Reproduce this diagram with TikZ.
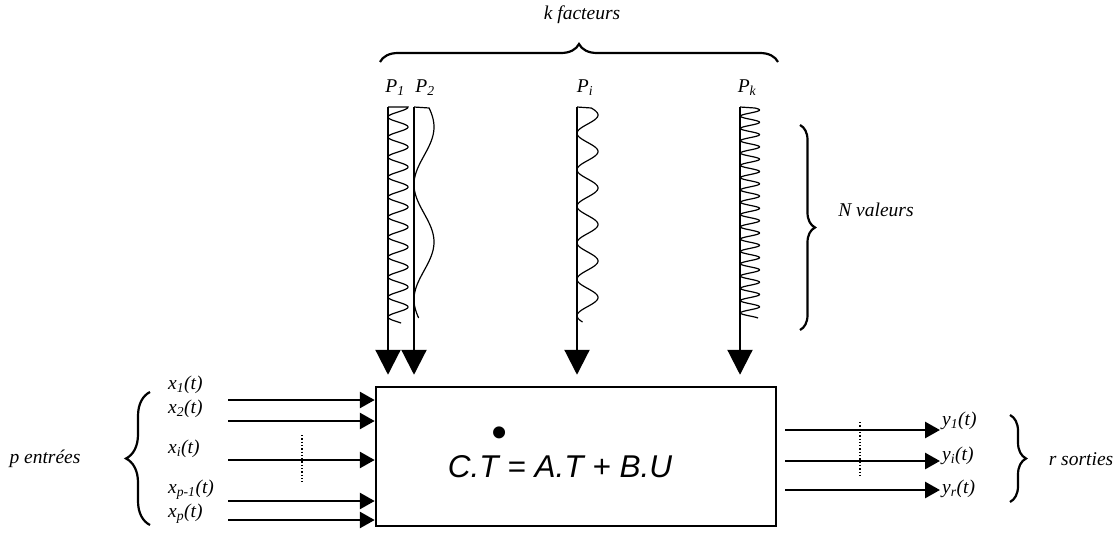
\documentclass[tikz,border=0pt]{standalone}
\usepackage{fontspec}
\setmainfont{Liberation Serif}
\newfontfamily\eqfont{Liberation Sans}
\usepackage{tikz}
\usetikzlibrary{positioning}
\usetikzlibrary{arrows.meta}
\usetikzlibrary{decorations.pathreplacing}

\newcommand\dotT{\rlap{\hspace{0.37em}\raisebox{0.93em}{\scalebox{1.4}{\textbullet}}}T}

\tikzset{
	lbl/.style={font=\fontsize{19.5}{21}\selectfont\itshape, inner sep=2pt},
	inarrow/.style={line width=2.8pt, -{Triangle[length=15pt,width=16pt]}},
	parrow/.style={line width=2.2pt, -{Triangle[length=25pt,width=25pt]}, shorten >=11pt},
	wave/.style={line width=1.2pt},
	bracestyle/.style={decorate, decoration={brace,amplitude=#1}, line width=2.2pt},
}

\begin{document}
\begin{tikzpicture}[x=1pt,y=-1pt]
		\useasboundingbox (0,0) rectangle (1116,533);
		
		% the system
		\node[draw, line width=2.5pt, minimum width=400pt, minimum height=139pt] (sys) at (576,456.5) {};
		\node[anchor=base, font=\fontsize{31.5}{33}\selectfont\eqfont\itshape] (eq) at (560,477) {C.\dotT\ = A.T + B.U};
		
		% factors
		\node[lbl] (kf) at (582,15) {k facteurs};
		\draw[bracestyle=18pt] (380,62) -- (778,62);
		
		\node[lbl] (p1) at (395,88) {P\textsubscript{1}};
		\node[lbl] (p2) at (425,88) {P\textsubscript{2}};
		\node[lbl] (pi) at (585,88) {P\textsubscript{i}};
		\node[lbl] (pk) at (747,88) {P\textsubscript{k}};
		
		\coordinate (p1top) at (388,107);
		\coordinate (p2top) at (414,107);
		\coordinate (pitop) at (577,107);
		\coordinate (pktop) at (740,107);
		
		\draw[parrow] (p1top) -- (p1top |- sys.north);
		\draw[parrow] (p2top) -- (p2top |- sys.north);
		\draw[parrow] (pitop) -- (pitop |- sys.north);
		\draw[parrow] (pktop) -- (pktop |- sys.north);
		
		% periods 20, 115, 36.5 and 12.3
		\draw[wave] (p1top) -- plot[domain=107:323,samples=300] ({398+10*cos(18*(\x-107))},\x);
		\draw[wave] (p2top) -- plot[domain=108:318,samples=150] ({424+10*cos(3.13*(\x-127))},\x);
		\draw[wave] (pitop) -- plot[domain=108:322,samples=300] ({587.5+10.5*cos(9.863*(\x-115))},\x);
		\draw[wave] (pktop) -- plot[domain=108:318,samples=500] ({750+9.5*cos(29.27*(\x-110))},\x);
		
		\draw[bracestyle=15pt] (800,125) -- (800,330);
		\node[lbl] (nval) at (876,210) {N valeurs};
		
		% inputs
		\node[lbl] (pin) at (45,459) {p entrées};
		\draw[bracestyle=24pt] (150,525) -- (150,392);
		
		\node[lbl,anchor=west] (x1) at (166,385) {x\textsubscript{1}(t)};
		\node[lbl,anchor=west] (x2) at (166,409) {x\textsubscript{2}(t)};
		\node[lbl,anchor=west] (xi) at (166,449) {x\textsubscript{i}(t)};
		\node[lbl,anchor=west] (xp1) at (166,490) {x\textsubscript{p-1}(t)};
		\node[lbl,anchor=west] (xp) at (166,514) {x\textsubscript{p}(t)};
		
		\coordinate (x1s) at (228,400);
		\coordinate (x2s) at (228,421);
		\coordinate (xis) at (228,460);
		\coordinate (xp1s) at (228,501);
		\coordinate (xps) at (228,520);
		
		\draw[inarrow] (x1s) -- (x1s -| sys.west);
		\draw[inarrow] (x2s) -- (x2s -| sys.west);
		\draw[inarrow] (xis) -- (xis -| sys.west);
		\draw[inarrow] (xp1s) -- (xp1s -| sys.west);
		\draw[inarrow] (xps) -- (xps -| sys.west);
		\draw[dotted, line width=1.3pt] (302,435) -- (302,482);
		
		% outputs
		\node[lbl,anchor=west] (y1) at (940,421) {y\textsubscript{1}(t)};
		\node[lbl,anchor=west] (yi) at (940,456) {y\textsubscript{i}(t)};
		\node[lbl,anchor=west] (yr) at (940,489) {y\textsubscript{r}(t)};
		
		\coordinate (y1s) at (785,430);
		\coordinate (yis) at (785,461);
		\coordinate (yrs) at (785,490);
		
		\draw[inarrow] (y1s) -- (y1s -| y1.west);
		\draw[inarrow] (yis) -- (yis -| yi.west);
		\draw[inarrow] (yrs) -- (yrs -| yr.west);
		\draw[dotted, line width=1.3pt] (860,422) -- (860,476);
		
		\draw[bracestyle=16pt] (1010,415) -- (1010,502);
		\node[lbl] (rout) at (1081,459) {r sorties};
	\end{tikzpicture}
\end{document}
